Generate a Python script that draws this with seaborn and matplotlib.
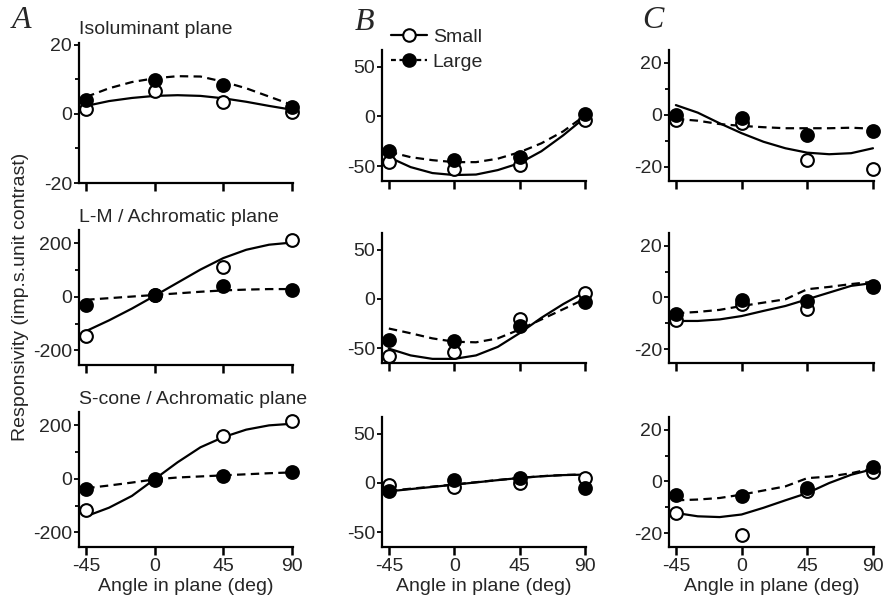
import matplotlib
matplotlib.use("Agg")
import matplotlib.pyplot as plt
from matplotlib.lines import Line2D
from matplotlib.ticker import FixedLocator
import seaborn as sns

# Stimulus angles (deg) at which responses were measured
ANGLES = [-45, 0, 45, 90]
# Angles at which the fitted model curves are sampled
FIT_ANGLES = [-45, -30, -15, 0, 15, 30, 45, 60, 75, 90]

# ---- Cell A ----
A_iso_small = [1.5, 6.5, 3.5, 0.5]
A_iso_large = [4.0, 9.8, 8.3, 2.1]
A_iso_small_fit = [2.3, 3.7, 4.6, 5.2, 5.4, 5.2, 4.5, 3.5, 2.3, 1.2]
A_iso_large_fit = [4.9, 7.4, 9.2, 10.3, 10.9, 10.8, 9.3, 7.4, 5.0, 2.6]

A_lm_small = [-145, 8, 113, 213]
A_lm_large = [-30, 8, 42, 26]
A_lm_small_fit = [-128, -88, -44, 4, 53, 102, 145, 176, 195, 203]
A_lm_large_fit = [-11, -5, 1, 7, 13, 19, 24, 27, 29, 29]

A_s_small = [-118, 0, 162, 216]
A_s_large = [-39, -3, 9, 24]
A_s_small_fit = [-140, -108, -64, -1, 62, 118, 156, 184, 200, 206]
A_s_large_fit = [-35, -25, -14, -2, 5, 9, 13, 17, 21, 24]

# ---- Cell B ----
B_iso_small = [-46, -53, -49, -3.4]
B_iso_large = [-35, -44, -41, 2.4]
B_iso_small_fit = [-41, -51, -57, -59, -58.5, -54, -47, -35, -19, -1]
B_iso_large_fit = [-35.5, -41, -44, -46, -46, -42.5, -36, -27, -15, 1]

B_lm_small = [-58, -54, -20, 5.8]
B_lm_large = [-41.7, -42.4, -27.8, -2.8]
B_lm_small_fit = [-50.4, -57.3, -60.8, -60.8, -57.3, -48.6, -34.7, -19.1, -5.2, 7.0]
B_lm_large_fit = [-30, -34.8, -40, -43.4, -44, -40, -31, -20.8, -10.4, 0]

B_s_small = [-2.4, -4.4, 0.0, 5.1]
B_s_large = [-8.5, 2.7, 5.1, -5.1]
B_s_small_fit = [-8.5, -6.2, -4.0, -1.7, 0.6, 2.9, 5.1, 6.8, 8.0, 8.5]
B_s_large_fit = [-8.0, -5.8, -3.7, -1.5, 0.8, 3.0, 5.2, 6.9, 8.1, 8.7]

# ---- Cell C ----
C_iso_small = [-1.9, -3.0, -17.3, -20.9]
C_iso_large = [0.0, -1.2, -7.7, -6.2]
C_iso_small_fit = [3.8, 0.9, -3.2, -7.0, -10.3, -12.8, -14.5, -15.1, -14.7, -12.8]
C_iso_large_fit = [-1.5, -2.2, -3.5, -4.2, -4.7, -5.1, -5.1, -5.1, -4.9, -5.3]

C_lm_small = [-8.7, -2.5, -4.6, 4.0]
C_lm_large = [-6.5, -1.0, -1.3, 4.6]
C_lm_small_fit = [-9.1, -9.1, -8.5, -7.2, -5.2, -3.3, -0.7, 1.9, 4.5, 5.6]
C_lm_large_fit = [-6.1, -5.6, -4.8, -3.3, -2.0, -0.7, 3.2, 4.1, 5.2, 6.1]

C_s_small = [-12.4, -20.8, -3.8, 3.8]
C_s_large = [-5.1, -5.8, -2.5, 5.5]
C_s_small_fit = [-12.2, -13.5, -13.8, -12.8, -10.2, -7.3, -4.5, -0.6, 2.6, 4.8]
C_s_large_fit = [-7.3, -7.0, -6.4, -5.1, -3.5, -1.9, 1.3, 1.9, 3.2, 5.1]

PLANE_TITLES = ["Isoluminant plane", "L-M / Achromatic plane", "S-cone / Achromatic plane"]
CELL_LABELS = ["A", "B", "C"]
X_TICK_LABELS = ["-45", "0", "45", "90"]
X_LABEL = "Angle in plane (deg)"
Y_LABEL = "Responsivity (imp.s.unit contrast)"
LEGEND_LABELS = ["Small", "Large"]

panels = {
    ("A", 0): (A_iso_small, A_iso_large, A_iso_small_fit, A_iso_large_fit),
    ("A", 1): (A_lm_small, A_lm_large, A_lm_small_fit, A_lm_large_fit),
    ("A", 2): (A_s_small, A_s_large, A_s_small_fit, A_s_large_fit),
    ("B", 0): (B_iso_small, B_iso_large, B_iso_small_fit, B_iso_large_fit),
    ("B", 1): (B_lm_small, B_lm_large, B_lm_small_fit, B_lm_large_fit),
    ("B", 2): (B_s_small, B_s_large, B_s_small_fit, B_s_large_fit),
    ("C", 0): (C_iso_small, C_iso_large, C_iso_small_fit, C_iso_large_fit),
    ("C", 1): (C_lm_small, C_lm_large, C_lm_small_fit, C_lm_large_fit),
    ("C", 2): (C_s_small, C_s_large, C_s_small_fit, C_s_large_fit),
}

sns.set_theme(style="ticks")
plt.rcParams["font.family"] = ["Liberation Sans", "DejaVu Sans"]
plt.rcParams["axes.unicode_minus"] = False

FS = 14
W, H = 883, 599
fig = plt.figure(figsize=(W / 100, H / 100), dpi=100)


def rect(left, top, right, bottom):
    return [left / W, 1 - bottom / H, (right - left) / W, (bottom - top) / H]


COL_X = {"A": (79, 293), "B": (382, 586), "C": (669, 874)}
ROW_Y_A = [(43, 183), (230, 365), (412, 547)]
ROW_Y_BC = [(50, 181), (233, 363), (417, 547)]

LW = 1.6
MS = 84


def y_setup(col, row):
    if col == "A" and row == 0:
        return (-20, 20.5), [-20, 0, 20], [-10, 10]
    if col == "A":
        return (-255, 250), [-200, 0, 200], [-100, 100]
    if col == "B":
        return (-65, 67), [-50, 0, 50], []
    return (-25.4, 25), [-20, 0, 20], [-10, 10]


for col in CELL_LABELS:
    for row in range(3):
        top, bottom = (ROW_Y_A if col == "A" else ROW_Y_BC)[row]
        left, right = COL_X[col]
        ax = fig.add_axes(rect(left, top, right, bottom))
        small, large, small_fit, large_fit = panels[(col, row)]

        sns.lineplot(x=FIT_ANGLES, y=small_fit, ax=ax, color="black",
                     linewidth=LW, zorder=2)
        sns.lineplot(x=FIT_ANGLES, y=large_fit, ax=ax, color="black",
                     linewidth=LW, linestyle=(0, (3.8, 2.4)), zorder=2)
        sns.scatterplot(x=ANGLES, y=small, ax=ax, s=MS, color="white",
                        edgecolor="black", linewidth=1.5, zorder=3, clip_on=False)
        sns.scatterplot(x=ANGLES, y=large, ax=ax, s=MS, color="black",
                        edgecolor="black", linewidth=1.5, zorder=4, clip_on=False)

        ylim, majors, minors = y_setup(col, row)
        ax.set_xlim(-49.7, 90.7)
        ax.set_ylim(*ylim)
        ax.set_yticks(majors)
        ax.set_yticklabels([str(v) for v in majors])
        ax.yaxis.set_minor_locator(FixedLocator(minors))
        ax.set_xticks(ANGLES)
        if row == 2:
            ax.set_xticklabels(X_TICK_LABELS)
            ax.set_xlabel(X_LABEL, fontsize=FS, labelpad=2)
        else:
            ax.set_xticklabels([])
        ax.set_ylabel("")
        sns.despine(ax=ax)
        for side in ("left", "bottom"):
            ax.spines[side].set_linewidth(1.6)
            ax.spines[side].set_color("black")
        ax.tick_params(axis="x", which="major", length=6, width=1.8,
                       labelsize=FS, pad=2, color="black")
        ax.tick_params(axis="y", which="major", length=3.5, width=1.3,
                       labelsize=FS, pad=1.5, color="black")
        ax.tick_params(axis="y", which="minor", length=3, width=1.3, color="black")
        ax.set_facecolor("none")

# Plane titles above the left column
for row, title in enumerate(PLANE_TITLES):
    y = [30, 217, 400][row]
    fig.text(79 / W, 1 - y / H, title, ha="left", va="center", fontsize=FS)

# Cell labels
for lab, (x, y) in zip(CELL_LABELS, [(12, 21), (355, 23), (642, 21)]):
    fig.text(x / W, 1 - y / H, lab, ha="left", va="center", fontsize=23,
             family=["Liberation Serif", "DejaVu Serif"], style="italic")

# Shared y label
fig.text(21 / W, 1 - 297 / H, Y_LABEL, rotation=90, ha="center", va="center",
         fontsize=FS)

# Legend in cell B
handles = [
    Line2D([], [], color="black", linewidth=LW, marker="o", markersize=9,
           markerfacecolor="white", markeredgecolor="black", markeredgewidth=1.5),
    Line2D([], [], color="black", linewidth=LW, linestyle=(0, (2.2, 1.6)),
           marker="o", markersize=9, markerfacecolor="black",
           markeredgecolor="black", markeredgewidth=1.5),
]
fig.legend(handles, LEGEND_LABELS, loc="upper left",
           bbox_to_anchor=(391 / W, 1 - 28 / H), frameon=False, fontsize=FS,
           handlelength=1.85, handletextpad=0.3, labelspacing=0.38,
           borderpad=0, borderaxespad=0)

fig.savefig("out.png", dpi=100, facecolor="white")
